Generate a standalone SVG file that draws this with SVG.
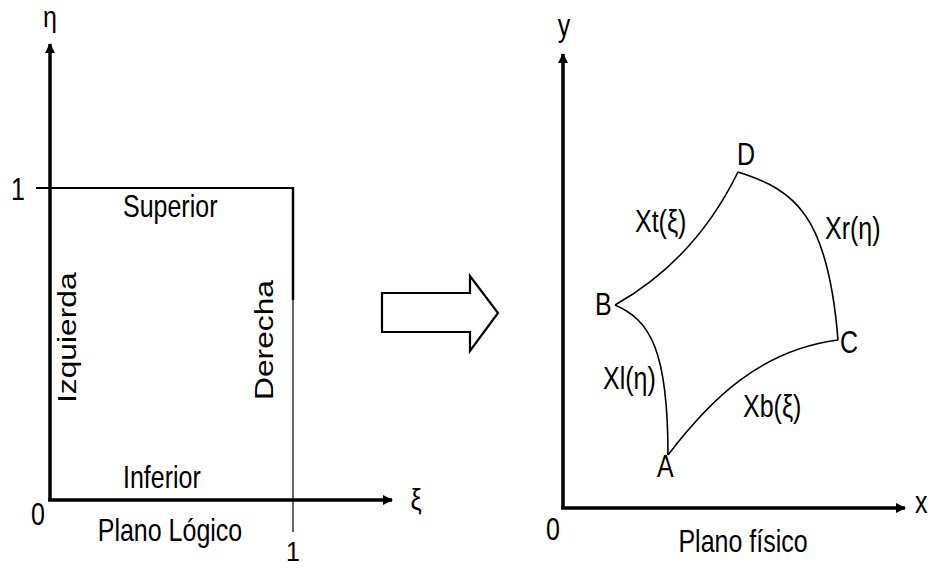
<svg xmlns="http://www.w3.org/2000/svg" width="928" height="569" viewBox="0 0 928 569">
<style>
text{font-family:"Liberation Sans",Arial,sans-serif;font-size:25px;fill:#000}
.ax{stroke:#000;stroke-width:3.5;fill:none}
.ln{stroke:#000;stroke-width:2;fill:none}
.cv{stroke:#000;stroke-width:1.6;fill:none}
</style>
<defs>
<marker id="ah" viewBox="0 0 10 10" refX="9" refY="5" markerWidth="12" markerHeight="10" markerUnits="userSpaceOnUse" orient="auto">
<path d="M0,0 L10,5 L0,10 Z" fill="#000"/>
</marker>
</defs>
<rect width="928" height="569" fill="#fff"/>
<g id="connectors">
<line class="ax" x1="50" y1="500" x2="50" y2="44" marker-end="url(#ah)"/>
<line class="ax" x1="48" y1="500" x2="392" y2="500" marker-end="url(#ah)"/>
<line class="ax" x1="563" y1="509" x2="563" y2="54" stroke-width="3"/>
<line class="ax" x1="561" y1="508" x2="905" y2="508" stroke-width="3"/>
<line x1="563" y1="509" x2="563" y2="54" stroke="none" marker-end="url(#ah)"/>
<line x1="561" y1="508" x2="905" y2="508" stroke="none" marker-end="url(#ah)"/>
<path class="cv" d="M615,305 Q695,260 738,172"/>
<path class="cv" d="M738,172 C795,190 828,215 838,340"/>
<path class="cv" d="M615,305 C650,320 668,350 668,455"/>
<path class="cv" d="M668,455 C710,400 760,350 838,340"/>
</g>
<g id="logical-square">
<line class="ln" x1="36" y1="188" x2="294" y2="188"/>
<line x1="293" y1="187" x2="293" y2="300" stroke="#000" stroke-width="2.5"/>
<line x1="293" y1="300" x2="293" y2="532" stroke="#000" stroke-width="1.2"/>
</g>
<g id="block-arrow">
<polygon points="382,293 470,293 470,276 498,313 470,351 470,332 382,332" fill="#fff" stroke="#000" stroke-width="2.2" stroke-linejoin="miter"/>
</g>
<g id="labels-logical">
<text text-anchor="middle" font-size="21" transform="translate(50,27) scale(1,1.15)">η</text>
<text transform="translate(11,200) scale(1,1.22)">1</text>
<text transform="translate(123,217) scale(1,1.22)">Superior</text>
<text transform="translate(123,488) scale(1,1.22)">Inferior</text>
<text transform="translate(31,525) scale(1,1.22)">0</text>
<text text-anchor="middle" font-size="24" transform="translate(170,541) scale(1,1.22)">Plano Lógico</text>
<text font-size="23" transform="translate(286,561) scale(1,1.1)">1</text>
<text text-anchor="middle" font-size="23" transform="translate(416,510) scale(1,1.2)">ξ</text>
<text transform="translate(76,403) scale(1,1.27) rotate(-90)">Izquierda</text>
<text transform="translate(273,400) scale(1,1.27) rotate(-90)">Derecha</text>
</g>
<g id="labels-physical">
<text text-anchor="middle" transform="translate(564,36) scale(1,1.22)">y</text>
<text transform="translate(915,513) scale(1,1.22)">x</text>
<text transform="translate(546,540) scale(1,1.22)">0</text>
<text text-anchor="middle" transform="translate(743,552) scale(1,1.22)">Plano físico</text>
</g>
<g id="node-D"><text transform="translate(737,165) scale(1,1.22)">D</text></g>
<g id="node-B"><text transform="translate(595,315) scale(1,1.22)">B</text></g>
<g id="node-C"><text transform="translate(840,353) scale(1,1.22)">C</text></g>
<g id="node-A"><text transform="translate(657,477) scale(1,1.22)">A</text></g>
<g id="curve-labels">
<text transform="translate(635,232) scale(1,1.22)">Xt(ξ)</text>
<text transform="translate(825,239) scale(1,1.22)">Xr(η)</text>
<text transform="translate(603,389) scale(1,1.22)">Xl(η)</text>
<text transform="translate(743,417) scale(1,1.22)">Xb(ξ)</text>
</g>
</svg>
